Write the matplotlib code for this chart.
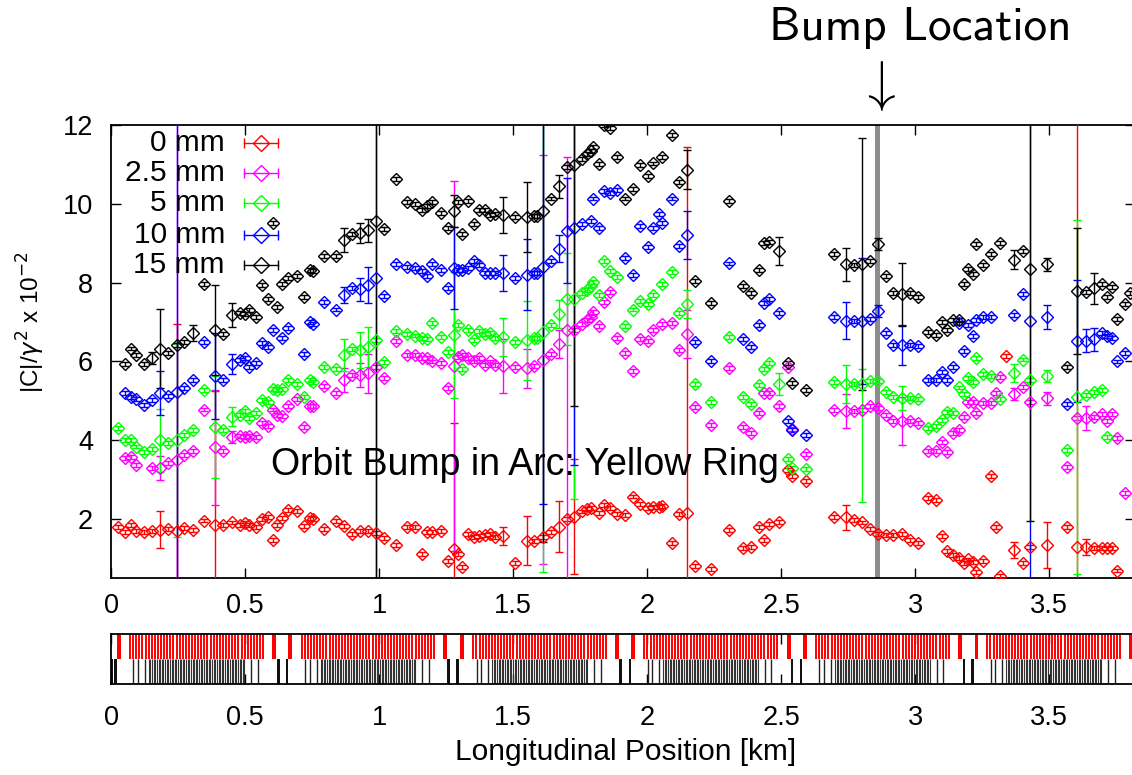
import matplotlib

matplotlib.use("Agg")

import matplotlib.pyplot as plt
import numpy as np

plt.rcParams["font.family"] = ["Liberation Sans", "DejaVu Sans"]

nan = float("nan")

# longitudinal BPM positions [km]
pos_km = [
    0.026, 0.051, 0.074, 0.092, 0.123, 0.151, 0.182, 0.213, 0.244, 0.271,
    0.304, 0.346, 0.387, 0.418, 0.449, 0.480, 0.499, 0.515, 0.540, 0.561,
    0.586, 0.605, 0.620, 0.636, 0.661, 0.692, 0.720, 0.742, 0.754, 0.794,
    0.839, 0.870, 0.897, 0.928, 0.959, 0.988, 1.018, 1.063, 1.105, 1.133,
    1.158, 1.177, 1.195, 1.229, 1.258, 1.279, 1.295, 1.307, 1.332, 1.355,
    1.373, 1.395, 1.413, 1.432, 1.463, 1.507, 1.550, 1.577, 1.587, 1.612,
    1.639, 1.671, 1.699, 1.728, 1.755, 1.774, 1.789, 1.799, 1.820, 1.839,
    1.861, 1.886, 1.917, 1.948, 1.973, 2.001, 2.023, 2.042, 2.054, 2.091,
    2.120, 2.149, 2.178, 2.238, 2.303, 2.356, 2.387, 2.418, 2.437, 2.455,
    2.492, 2.526, 2.539, 2.592, 2.698, 2.742, 2.773, 2.800, 2.831, 2.862,
    2.890, 2.918, 2.949, 2.980, 3.011, 3.049, 3.077, 3.098, 3.119, 3.142,
    3.164, 3.180, 3.198, 3.214, 3.227, 3.254, 3.281, 3.301, 3.316, 3.339,
    3.370, 3.401, 3.428, 3.490, 3.565, 3.605, 3.637, 3.667, 3.696, 3.717,
    3.733, 3.751, 3.783, 3.801,
]

c_0mm = [
    1.80, 1.68, 1.85, 1.70, 1.68, 1.70, 1.73, 1.75, 1.70, 1.78,
    1.73, 1.96, 1.85, 1.85, 1.91, 1.85, 1.89, 1.85, 1.80, 1.99,
    2.05, 1.47, 1.85, 2.02, 2.23, 2.21, 1.83, 2.02, 1.99, 1.75,
    1.94, 1.83, 1.62, 1.70, 1.70, 1.64, 1.52, 1.33, 1.79, 1.79,
    1.11, 1.66, 1.66, 1.70, 0.92, 1.23, 1.12, 0.77, 1.62, 1.55,
    1.57, 1.60, 1.62, 1.55, 1.57, 0.89, 1.45, 1.45, nan, 1.53,
    1.66, 1.80, 1.99, 2.06, 2.19, 2.25, 2.27, nan, 2.15, 2.35,
    2.28, 2.12, 2.10, 2.57, 2.38, 2.28, 2.30, 2.30, 2.32, 1.38,
    2.13, 2.15, 0.81, 0.72, 1.73, 1.26, 1.29, 1.80, 1.47, 1.87,
    1.93, 3.24, 3.09, 2.97, 2.06, 2.04, 1.97, 1.91, 1.74, 1.62,
    1.59, 1.59, 1.62, 1.47, 1.40, 2.53, 2.48, 1.57, 1.19, 1.09,
    1.00, 0.87, 0.97, 0.90, 0.66, 0.94, 3.09, 1.79, 0.55, 6.14,
    1.21, 0.89, 1.28, 1.34, 1.79, 1.28, 1.28, 1.26, 1.26, 1.25,
    1.26, 0.69, nan, nan,
]
c_2p5mm = [
    nan, 3.54, 3.58, 3.37, nan, 3.29, 3.29, 3.41, 3.50, 3.62,
    3.73, 4.78, 3.82, 3.73, 4.09, 4.11, 4.09, 4.11, 4.09, 4.43,
    4.35, 4.78, 4.64, 4.62, 4.87, 5.04, 4.34, 4.87, 4.86, 5.38,
    5.19, 5.53, 5.65, 5.65, 5.70, 5.85, 5.59, 6.52, 6.16, 6.16,
    6.08, 6.10, 6.00, 5.96, 5.32, 5.88, 6.12, 6.16, 6.08, 6.00,
    6.08, 5.91, 6.00, 5.91, 5.88, 5.87, 5.83, 5.88, nan, 6.05,
    6.20, 6.44, 6.80, 6.80, 6.95, 7.05, 7.12, 7.26, 6.90, 7.52,
    7.77, 6.59, 6.21, 5.77, 6.58, 6.53, 6.81, nan, 6.95, 6.97,
    6.30, 6.70, 4.85, 4.39, 5.83, 4.33, 4.19, 4.68, 5.19, 5.20,
    4.87, 5.87, 4.28, 3.65, 4.77, 4.75, 4.74, 4.77, 4.87, 4.82,
    4.64, 4.50, 4.49, 4.49, 4.44, 3.73, 3.72, 3.96, 3.69, 4.19,
    4.25, 4.58, 4.98, 4.96, 4.68, 4.95, 4.94, 5.19, 5.60, nan,
    5.17, 5.36, 4.98, 5.06, 3.31, 4.56, 4.56, 4.60, 4.66, 4.49,
    4.66, 4.05, 2.65, nan,
]
c_5mm = [
    4.30, 4.00, 4.00, 3.84, 3.71, 3.77, 4.00, 3.92, 4.00, 4.13,
    4.27, 5.27, 4.34, 4.27, 4.60, 4.64, 4.75, 4.56, 4.68, 5.02,
    4.98, 5.29, 5.27, 5.29, 5.53, 5.43, 5.10, 5.53, 5.48, 5.87,
    5.82, 6.16, 6.31, 6.29, 6.37, 6.54, 5.98, 6.78, 6.71, 6.66,
    6.60, 6.58, 6.98, 6.63, 6.25, 6.68, 6.93, 5.80, 6.81, 6.54,
    6.78, 6.71, 6.73, 6.60, 6.63, 6.49, 6.54, 6.60, 6.60, 6.76,
    6.93, 7.20, 7.58, 7.60, 7.74, 7.82, 7.93, 8.02, 7.69, 8.56,
    8.30, 8.15, 6.90, 7.32, 7.54, 7.47, 7.69, nan, 7.96, 8.28,
    7.22, 7.46, 5.43, 4.98, 6.62, 5.09, 4.92, 5.40, 5.80, 5.95,
    5.43, 3.52, 3.29, 3.26, 5.49, 5.43, 5.42, 5.42, 5.51, 5.51,
    5.23, 5.10, 5.08, 5.08, 5.05, 4.30, 4.37, 4.51, 4.72, 4.69,
    5.34, 5.17, 5.57, 5.49, 6.08, 5.68, 5.64, nan, 5.04, nan,
    5.70, 6.05, 5.54, 5.63, 3.75, 5.10, 5.14, 5.22, 5.28, 4.09,
    nan, nan, nan, nan,
]
c_10mm = [
    nan, 5.19, 5.09, 5.05, 4.89, 5.02, 5.19, 5.12, 5.23, 5.33,
    5.53, 6.50, 5.63, 5.53, 5.93, 6.03, 6.08, 5.87, 5.97, 6.46,
    6.37, 6.81, nan, 6.59, 6.84, nan, 6.19, 7.00, 6.95, 7.52,
    7.32, 7.69, 7.86, 7.83, 7.94, 8.13, 7.66, 8.47, 8.40, 8.37,
    8.29, 8.18, 8.47, 8.32, 7.86, 8.38, 8.33, 8.32, 8.37, 8.56,
    8.45, 8.24, 8.25, 8.24, 8.24, 8.11, 8.20, 8.24, 8.25, 8.39,
    8.56, 8.87, 9.32, 9.38, 9.50, nan, 9.57, 10.14, 9.38, 10.33,
    10.27, 10.35, 8.64, 8.19, 9.44, 8.90, 9.40, 9.74, 9.52, 10.14,
    8.93, 9.21, 6.50, 6.02, 8.49, 6.56, 6.36, 6.92, 7.49, 7.58,
    7.22, 4.50, 4.26, 4.13, 7.13, 7.03, 7.03, 7.03, 7.08, 7.29,
    6.73, 6.42, 6.42, 6.42, 6.39, 5.53, 5.52, 5.74, 5.52, 5.87,
    6.97, 6.27, 6.92, 6.64, 7.06, 7.13, 7.13, nan, nan, nan,
    7.18, 7.71, 7.03, 7.13, 4.92, 6.53, 6.53, 6.56, 6.73, 6.64,
    6.59, 6.00, 6.21, nan,
]
c_15mm = [
    nan, 5.93, 6.33, 6.16, 5.93, 6.08, 6.33, 6.22, 6.42, 6.50,
    6.73, 7.98, 6.80, 6.71, 7.18, 7.22, 7.20, 7.30, 7.13, 7.94,
    7.58, 9.52, 7.39, 7.96, 8.13, 8.17, 7.63, 8.32, 8.30, 8.68,
    8.68, 9.08, 9.23, 9.27, 9.33, 9.57, 9.37, 10.63, 10.05, 10.01,
    9.84, 9.94, 10.05, 9.77, 9.38, 9.82, 10.05, 9.23, 10.08, 9.50,
    9.86, 9.86, 9.72, 9.74, 9.72, 9.67, 9.67, 9.69, 9.69, 9.82,
    10.14, 10.45, 10.94, 10.98, 11.15, 11.28, 11.35, 11.45, 11.01, 12.00,
    11.94, 11.20, 10.14, 10.37, 10.98, 10.71, 11.03, nan, 11.20, 11.75,
    10.56, 10.87, 8.05, 7.49, 10.07, 7.91, 7.73, 8.32, 9.00, 9.04,
    8.81, 5.97, 5.46, 5.27, 8.73, 8.47, 8.45, 8.47, 8.56, 8.98,
    8.17, 7.74, 7.71, 7.73, 7.63, 6.76, 6.67, 7.01, 6.80, 7.05,
    7.05, 7.96, 8.36, 8.22, 8.98, 8.45, 8.73, nan, 9.00, nan,
    8.59, 8.81, 8.36, 8.47, 5.85, 7.79, 7.77, 7.86, 7.98, 7.64,
    7.90, 7.07, 7.47, 7.73,
]

# error bars: small default, larger ones by point index (symmetric or (low, high))
err_default = 0.05
err_0mm = {6: 0.47, 8: 5.25, 12: 3.4, 45: 3.2, 54: 0.23, 56: 0.63, 61: 0.65,
           63: 1.46, 81: 9.3, 95: 0.31, 120: 0.2, 123: 0.58, 125: 11.5, 126: 0.2}
err_2p5mm = {6: 0.3, 8: 11.5, 12: 1.46, 14: 0.15, 31: 0.3, 33: 0.3, 34: 0.5,
             45: 4.7, 54: 0.68, 56: 0.5, 59: 5.2, 61: 0.35, 62: (6.5, 4.4),
             81: 0.6, 95: 0.43, 102: 0.6, 120: 0.15, 123: 0.17, 126: 0.3}
err_5mm = {6: 0.8, 8: 2.45, 12: 1.3, 14: 0.25, 31: 0.4, 33: 0.45, 34: 0.5,
           45: 1.6, 54: 0.48, 56: 1.0, 59: 6.1, 61: 0.35, 62: 1.17, 63: 5.1,
           81: 0.36, 90: 0.28, 95: 0.49, 97: (3.0, 0.4), 102: 0.3, 120: 0.23,
           123: 0.16, 125: 4.5}
err_10mm = {6: 0.56, 8: 11.5, 12: 1.1, 14: 0.25, 31: 0.2, 33: 0.3, 34: 0.45,
            35: 11.5, 45: 1.04, 54: 0.46, 56: 0.9, 59: 6.0, 61: 0.35, 62: 1.33,
            63: 6.0, 81: 0.61, 95: 0.47, 97: 1.6, 99: 0.15, 102: 0.5, 122: 7.0,
            123: 0.3, 125: 1.55, 126: 0.3, 127: 0.3}
err_15mm = {5: 0.15, 6: 1.0, 10: 0.2, 12: 1.15, 14: 0.3, 31: 0.3, 33: 0.25,
            34: 0.3, 35: 11.5, 45: 0.4, 54: 0.45, 56: 0.9, 59: 8.4, 61: 0.3,
            63: 6.1, 81: 0.5, 90: 0.35, 95: 0.42, 97: 3.2, 99: 0.15, 102: 0.8,
            120: 0.25, 122: 6.4, 123: 0.17, 125: 1.6, 127: 0.4}

labels = ["0 mm", "2.5 mm", "5 mm", "10 mm", "15 mm"]
colors = ["#ff0000", "#ff00ff", "#00ff00", "#0000ff", "#000000"]

bump_km = 2.857

# lattice layout [km]
arc_start_km = [0.070, 0.711, 1.351, 1.989, 2.630, 3.269]
arc_end_km = [0.567, 1.204, 1.846, 2.483, 3.125, 3.764]
insertion_dipole_km = [0.028, 0.607, 0.668, 1.246, 1.309, 1.888, 1.948,
                       2.528, 2.589, 3.166, 3.228, 3.803]
insertion_quad_km = [0.0, 0.015, 0.623, 0.655, 1.258, 1.293, 1.900, 1.935,
                     2.540, 2.574, 3.182, 3.213]
n_arc_dipoles = 44
n_arc_quads = 60

xticks = [0, 0.5, 1, 1.5, 2, 2.5, 3, 3.5]
xtick_labels = ["0", "0.5", "1", "1.5", "2", "2.5", "3", "3.5"]
yticks = [2, 4, 6, 8, 10, 12]


def build_yerr(n, overrides):
    lo = np.full(n, err_default)
    hi = np.full(n, err_default)
    for i, e in overrides.items():
        if isinstance(e, tuple):
            lo[i], hi[i] = e
        else:
            lo[i] = hi[i] = e
    return np.vstack([lo, hi])


series = [c_0mm, c_2p5mm, c_5mm, c_10mm, c_15mm]
errs = [err_0mm, err_2p5mm, err_5mm, err_10mm, err_15mm]
for s in series:
    if len(s) != len(pos_km):
        raise ValueError(f"length mismatch {len(s)} vs {len(pos_km)}")

W, H = 1132, 775
fig = plt.figure(figsize=(W / 100, H / 100), dpi=100)

x_left = 111.3 / W
x_width = (1135 - 111.3) / W
ax = fig.add_axes([x_left, (H - 578) / H, x_width, (578 - 125.3) / H])
strip = fig.add_axes([x_left, (H - 684) / H, x_width, 50 / H])

xmax = (1135 - 111.3) / 268.0

x = np.array(pos_km)
ax.axvline(bump_km, color="#8c8c8c", lw=3.6, zorder=1)
for y, err, color in zip(series, errs, colors):
    ax.errorbar(
        x, np.array(y), yerr=build_yerr(len(x), err),
        fmt="D", ms=6.5, mfc="none", mec=color, mew=1.0,
        ecolor=color, elinewidth=1.0, capsize=3.2, capthick=1.0,
        zorder=3,
    )

ax.set_xlim(0, xmax)
ax.set_ylim(0.5, 12)
ax.set_xticks(xticks)
ax.set_xticklabels(xtick_labels)
ax.set_yticks(yticks)
ax.tick_params(axis="both", direction="in", length=7, width=1.0,
               labelsize=19.5, top=True, right=True)
ax.tick_params(axis="x", pad=11)
ax.tick_params(axis="y", pad=13)
for sp in ax.spines.values():
    sp.set_linewidth(1.3)

# legend drawn gnuplot-style: right-aligned text then sample
row_y = [0.960, 0.894, 0.828, 0.758, 0.691]
for lab, color, ry in zip(labels, colors, row_y):
    ax.text(0.111, ry, lab, transform=ax.transAxes, ha="right", va="center",
            fontsize=21.5)
    ax.plot([0.1296, 0.1628], [ry, ry], color=color, lw=1.0,
            transform=ax.transAxes, zorder=5)
    ax.plot([0.1296, 0.1628], [ry, ry], ls="none", marker="|", ms=7,
            mew=1.0, color=color, transform=ax.transAxes, zorder=5)
    ax.plot([0.146], [ry], ls="none", marker="D", ms=8, mfc="none",
            mec=color, mew=1.0, transform=ax.transAxes, zorder=5)

ax.text(1.544, 3.37, "Orbit Bump in Arc: Yellow Ring", ha="center",
        va="center", fontsize=27, zorder=6)

# lattice strip
for s, e in zip(arc_start_km, arc_end_km):
    strip.vlines(np.linspace(s, e, n_arc_dipoles), 0.5, 1.0,
                 color="#ff0000", lw=1.4)
    strip.vlines(np.linspace(s + 0.07, e - 0.07, n_arc_quads), 0.0, 0.5,
                 color="#333333", lw=0.8)
    strip.vlines([s + 0.012, s + 0.03, s + 0.055, e - 0.045, e - 0.02],
                 0.0, 0.5, color="#222222", lw=1.0)
strip.bar(insertion_dipole_km, 0.5, bottom=0.5, width=0.014,
          color="#ff0000", linewidth=0)
strip.bar(insertion_quad_km, 0.5, bottom=0.0, width=0.01,
          color="#111111", linewidth=0)
strip.set_xlim(0, xmax)
strip.set_ylim(0, 1)
strip.set_yticks([])
strip.set_xticks(xticks)
strip.set_xticklabels(xtick_labels)
strip.tick_params(axis="x", direction="in", length=7, width=1.0,
                  labelsize=19.5, top=True, pad=15)
for sp in strip.spines.values():
    sp.set_linewidth(1.3)

fig.text(31 / W, 1 - 322 / H, r"|C|/$\gamma^2$ x 10$^{-2}$", rotation=90,
         ha="center", va="center", fontsize=17.5)
fig.text(626 / W, 1 - 752 / H, "Longitudinal Position [km]", ha="center",
         va="center", fontsize=21.5)
fig.text(920 / W, 1 - 28 / H, "Bump Location", ha="center", va="center",
         fontsize=34, family="cmss10")
fig.text(877 / W, 1 - 86 / H, r"$\downarrow$", ha="center", va="center",
         fontsize=40, math_fontfamily="cm")

fig.savefig("out.png", dpi=100)
